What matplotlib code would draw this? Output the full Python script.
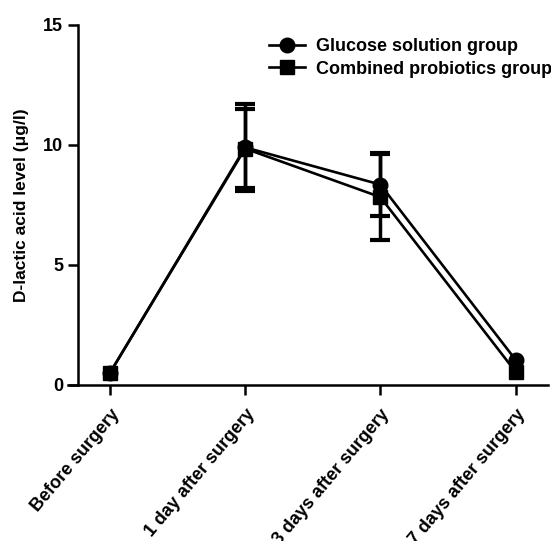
import numpy as np
import matplotlib
matplotlib.use('Agg')
import matplotlib.pyplot as plt

categories = ["Before surgery", "1 day after surgery", "3 days after surgery", "7 days after surgery"]
glucose_mean = [0.5, 9.9, 8.35, 1.05]
glucose_sd = [0.0, 1.8, 1.3, 0.0]
probiotics_mean = [0.5, 9.85, 7.83, 0.55]
probiotics_sd = [0.0, 1.65, 1.8, 0.0]

plt.rcParams['font.family'] = ['Liberation Sans', 'DejaVu Sans']
plt.rcParams['font.weight'] = 'bold'

fig = plt.figure(figsize=(5.51, 5.41), dpi=100)
ax = fig.add_axes([0.1234, 0.2884, 0.8712, 0.6654])

x = np.arange(len(categories))
for mean, sd, mk, lab in [(glucose_mean, glucose_sd, 'o', 'Glucose solution group'),
                          (probiotics_mean, probiotics_sd, 's', 'Combined probiotics group')]:
    mean = np.array(mean)
    sd = np.array(sd)
    ax.plot(x, mean, color='black', lw=1.9, marker=mk, ms=10.5, label=lab)
    m = sd > 0
    ax.errorbar(x[m], mean[m], yerr=sd[m], fmt='none', ecolor='black',
                capsize=7, capthick=3, elinewidth=2.5)

ax.set_xlim(-0.31, 3.24)
ax.set_ylim(0, 15)
ax.set_yticks([0, 5, 10, 15])
ax.set_xticks(x)
ax.set_xticklabels(categories, rotation=50, ha='right', va='top', rotation_mode='anchor',
                   fontsize=13, fontweight='bold')
ax.tick_params(axis='y', labelsize=13)
ax.set_ylabel('D-lactic acid level (μg/l)', fontsize=12.5, fontweight='bold', labelpad=10)

ax.spines['top'].set_visible(False)
ax.spines['right'].set_visible(False)
ax.spines['left'].set_position(('data', -0.237))
ax.spines['left'].set_linewidth(1.8)
ax.spines['bottom'].set_linewidth(1.8)
ax.tick_params(axis='both', width=1.8, length=7, direction='out')
ax.tick_params(axis='x', pad=8)

leg = ax.legend(loc='upper right', bbox_to_anchor=(1.043, 1.008), frameon=False, fontsize=13,
                handlelength=2.0, handletextpad=0.6, labelspacing=0.3)
for t in leg.get_texts():
    t.set_fontweight('bold')

plt.savefig('out.png', dpi=100)
